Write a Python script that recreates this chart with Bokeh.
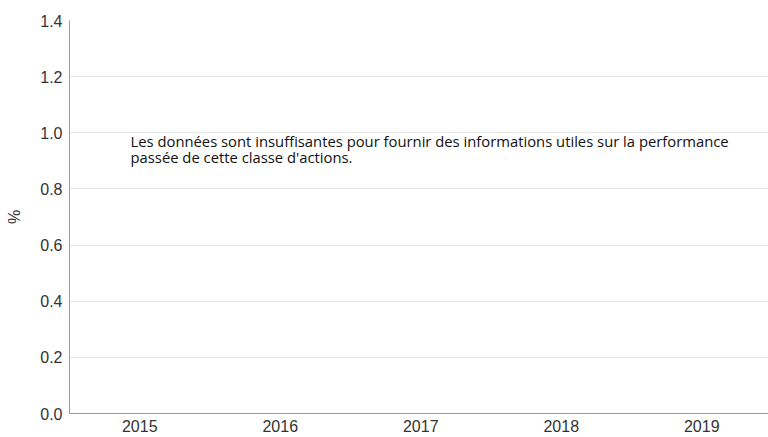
from bokeh.plotting import figure
from bokeh.models import Range1d, FixedTicker, Label
from bokeh.embed import file_html
from bokeh.resources import INLINE

years = ["2015", "2016", "2017", "2018", "2019"]
y_ticks = [0.0, 0.2, 0.4, 0.6, 0.8, 1.0, 1.2, 1.4]
y_labels = ["0.0", "0.2", "0.4", "0.6", "0.8", "1.0", "1.2", "1.4"]
message = ("Les données sont insuffisantes pour fournir des informations utiles sur la performance\n"
           "passée de cette classe d'actions.")

x_pos = [i + 0.5 for i in range(len(years))]

FRAME_LEFT = 69
FRAME_BOTTOM = 413

p = figure(width=768, height=437, output_backend="svg", toolbar_location=None,
           x_range=Range1d(0, 4.975), y_range=Range1d(0, 1.4),
           min_border_left=FRAME_LEFT, min_border_right=0, min_border_top=20,
           min_border_bottom=437 - FRAME_BOTTOM)
p.outline_line_color = None
p.background_fill_color = "white"
p.border_fill_color = "white"

AXIS_FONT = "Arial"

# x axis
p.xaxis.ticker = FixedTicker(ticks=x_pos)
p.xaxis.major_label_overrides = {x: y for x, y in zip(x_pos, years)}
p.xaxis.major_tick_line_color = None
p.xaxis.minor_tick_line_color = None
p.xaxis.major_tick_out = 0
p.xaxis.minor_tick_out = 0
p.xaxis.axis_line_color = "#9a9a9a"
p.xaxis.major_label_text_font = AXIS_FONT
p.xaxis.major_label_text_font_size = "16px"
p.xaxis.major_label_text_color = "#333333"
p.xaxis.major_label_standoff = 6
p.xgrid.grid_line_color = None

# y axis
p.yaxis.ticker = FixedTicker(ticks=y_ticks)
p.yaxis.major_label_overrides = {t: l for t, l in zip(y_ticks, y_labels)}
p.yaxis.major_tick_line_color = None
p.yaxis.minor_tick_line_color = None
p.yaxis.major_tick_out = 0
p.yaxis.minor_tick_out = 0
p.yaxis.axis_line_color = "#9a9a9a"
p.yaxis.major_label_text_font = AXIS_FONT
p.yaxis.major_label_text_font_size = "16px"
p.yaxis.major_label_text_color = "#333333"
p.yaxis.major_label_standoff = 7
p.yaxis.axis_label = "%"
p.yaxis.axis_label_text_font = AXIS_FONT
p.yaxis.axis_label_text_font_size = "16px"
p.yaxis.axis_label_text_font_style = "normal"
p.yaxis.axis_label_text_color = "#333333"
p.yaxis.axis_label_standoff = 14
p.ygrid.grid_line_color = "#e6e6e6"
p.ygrid.grid_line_width = 1

# label position in screen units relative to frame
lbl = Label(x=130 - FRAME_LEFT, y=FRAME_BOTTOM - 130, x_units="screen", y_units="screen",
            text=message, text_font="Open Sans", text_font_size="14.8px", text_color="#111111",
            text_baseline="top", text_align="left", text_line_height=0.84)
p.add_layout(lbl)

open("out.html", "w").write(file_html(p, INLINE))
